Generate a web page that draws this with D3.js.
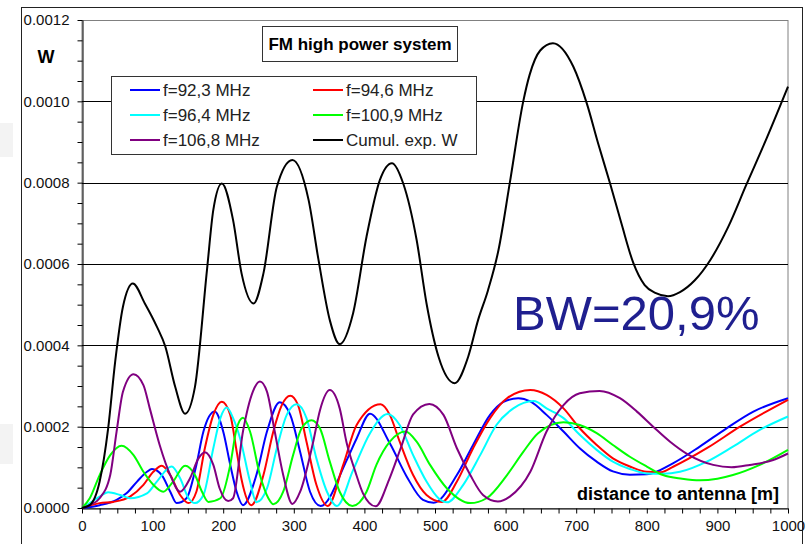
<!DOCTYPE html>
<html>
<head>
<meta charset="utf-8">
<script src="https://cdn.jsdelivr.net/npm/d3@7"></script>
<style>
  body { margin: 0; background: #fff; }
  text { font-family: "Liberation Sans", Arial, sans-serif; }
</style>
</head>
<body>
<svg id="chart" width="809" height="544"></svg>
<script>
// values in units of 1e-4 W as [distance m, value]
const UNIT = 1e-4;

const f923 = [[0,0],[25,0.07],[49,0.2],[63,0.36],[78,0.65],[92,0.89],[99,0.96],[113,0.81],[125,0.4],[134,0.12],
  [148,0.24],[162,1.06],[172,1.88],[188,2.37],[200,1.88],[210,1.06],[219,0.4],[228,0.07],[247,0.81],[262,1.88],
  [280,2.6],[295,2.29],[309,1.38],[323,0.4],[338,0.05],[375,1.18],[389,1.71],[408,2.32],[436,1.59],[460,0.77],
  [483,0.2],[498,0.13],[531,0.81],[554,1.55],[578,2.29],[597,2.61],[618,2.7],[635,2.62],[658,2.29],[682,1.88],
  [705,1.47],[729,1.14],[752,0.9],[776,0.82],[800,0.83],[837,1.1],[875,1.51],[913,1.96],[951,2.37],[1000,2.7]];

const f946 = [[0,0],[25,0.12],[44,0.15],[68,0.28],[87,0.57],[101,0.89],[113,1.04],[125,0.81],[139,0.32],[151,0.12],
  [162,0.4],[174,1.47],[186,2.29],[198,2.61],[210,2.29],[219,1.4],[226,0.7],[240,0.07],[257,0.81],[271,1.88],
  [283,2.53],[295,2.76],[306,2.53],[318,1.63],[332,0.57],[348,0.05],[370,1.06],[389,2.04],[423,2.55],[436,2.29],
  [450,1.63],[469,0.81],[488,0.32],[510,0.15],[531,0.65],[554,1.47],[578,2.21],[602,2.7],[635,2.9],[658,2.78],
  [682,2.45],[705,1.96],[729,1.55],[752,1.22],[776,1.02],[800,0.89],[820,0.88],[838,1.02],[885,1.47],[932,2.0],
  [1000,2.66]];

const f964 = [[0,0],[11,0.12],[25,0.28],[37,0.39],[54,0.32],[68,0.24],[92,0.36],[106,0.65],[127,1.02],[139,0.73],
  [151,0.24],[160,0.12],[172,0.32],[186,1.47],[196,2.21],[205,2.47],[214,2.21],[224,1.71],[238,0.65],[247,0.14],
  [262,0.48],[276,1.47],[290,2.29],[304,2.55],[318,2.21],[332,1.22],[347,0.4],[361,0.05],[384,0.93],[408,1.84],
  [433,2.31],[450,2.04],[469,1.3],[488,0.65],[505,0.24],[517,0.14],[540,0.57],[564,1.3],[587,2.04],[611,2.45],
  [640,2.63],[658,2.45],[682,2.21],[705,1.8],[729,1.43],[752,1.14],[776,0.96],[800,0.85],[823,0.84],[847,0.89],
  [885,1.14],[922,1.51],[960,1.92],[1000,2.25]];

const f1009 = [[0,0],[11,0.24],[25,0.81],[40,1.3],[56,1.53],[73,1.3],[87,0.89],[101,0.57],[115,0.4],[129,0.65],
  [146,1.04],[160,0.81],[170,0.4],[179,0.15],[196,0.24],[210,1.06],[219,1.95],[228,2.22],[238,1.88],[252,0.81],
  [264,0.24],[271,0.09],[285,0.4],[299,1.3],[311,1.96],[325,2.16],[337,1.96],[351,1.14],[365,0.4],[383,0.05],
  [403,0.4],[417,1.06],[436,1.63],[458,1.88],[474,1.63],[493,1.06],[517,0.48],[550,0.12],[573,0.24],[602,0.81],
  [625,1.38],[646,1.84],[682,2.11],[705,2.04],[729,1.84],[752,1.55],[776,1.26],[800,1.02],[823,0.81],[850,0.72],
  [875,0.68],[900,0.72],[922,0.81],[960,1.06],[1000,1.43]];

const f1068 = [[0,0],[11,0.07],[25,0.24],[40,0.81],[49,1.88],[58,2.86],[73,3.29],[87,3.02],[96,2.45],[110,1.55],
  [125,0.81],[139,0.4],[153,0.73],[165,1.22],[174,1.37],[186,1.06],[195,0.48],[207,0.17],[214,0.24],[228,1.88],
  [242,2.86],[252,3.11],[262,2.86],[273,1.88],[285,0.81],[298,0.1],[309,0.4],[327,1.59],[337,2.4],[351,2.9],
  [365,2.45],[375,1.59],[387,0.9],[398,0.36],[416,0.04],[435,0.7],[452,1.5],[469,2.3],[492,2.56],[512,2.29],
  [531,1.47],[550,0.81],[568,0.32],[589,0.16],[606,0.28],[635,0.89],[658,1.88],[682,2.53],[705,2.82],[733,2.88],
  [762,2.7],[786,2.37],[809,2.0],[833,1.63],[858,1.32],[894,1.06],[920,1.0],[946,1.06],[979,1.18],[1000,1.34]];

const cumul = [[0,0],[11,0.07],[25,0.65],[37,1.95],[47,3.6],[58,4.95],[72,5.52],[89,5.03],[106,4.46],[118,3.97],
  [132,2.98],[146,2.32],[160,2.98],[177,5.85],[186,7.33],[198,7.98],[214,7.08],[226,5.77],[243,5.03],[257,5.77],
  [276,7.9],[298,8.56],[321,7.57],[335,6.1],[351,4.62],[365,4.03],[384,4.79],[403,6.67],[422,8.07],[439,8.48],
  [455,7.98],[474,6.59],[488,5.03],[505,3.72],[528,3.07],[547,3.72],[561,4.62],[575,5.35],[590,6.35],[606,8.0],
  [625,10.0],[634,10.65],[649,11.25],[667,11.43],[696,10.85],[715,9.95],[731,8.97],[748,7.98],[764,7.0],[781,6.02],
  [797,5.48],[812,5.29],[830,5.21],[847,5.31],[868,5.6],[890,6.1],[915,6.9],[941,7.95],[970,9.1],[1000,10.36]];

const seriesNames = ['f=92,3 MHz', 'f=94,6 MHz', 'f=96,4 MHz', 'f=100,9 MHz', 'f=106,8 MHz', 'Cumul. exp. W'];
const seriesData = [f923, f946, f964, f1009, f1068, cumul];
const seriesColors = ['#0000ff', '#ff0000', '#00ffff', '#00ff00', '#800080', '#000000'];

const xTicks = d3.range(0, 1001, 25);
const yTicks = d3.range(0, 25).map(i => i * 0.00005);

const svg = d3.select('#chart');
const LEFT = 82, RIGHT = 788, TOP = 20, BOTTOM = 508;

const x = d3.scaleLinear().domain([0, 1000]).range([LEFT, RIGHT]);
const y = d3.scaleLinear().domain([0, 0.0012]).range([BOTTOM, TOP]);

// faint background marks at the left edge
svg.append('rect').attr('x', 0).attr('y', 123).attr('width', 13).attr('height', 34).attr('fill', '#f3f3f3');
svg.append('rect').attr('x', 0).attr('y', 424).attr('width', 13).attr('height', 40).attr('fill', '#f3f3f3');

// outer frame
svg.append('rect')
    .attr('x', 21.5).attr('y', 7.5)
    .attr('width', 781).attr('height', 600)
    .attr('fill', '#fff').attr('stroke', '#222');

// plot area
svg.append('rect')
    .attr('x', LEFT).attr('y', TOP + 0.5)
    .attr('width', RIGHT - LEFT).attr('height', BOTTOM - TOP)
    .attr('fill', '#fff').attr('stroke', '#808080');

// grid
svg.append('g')
    .selectAll('line')
    .data(d3.range(1, 6).map(i => i * 0.0002))
    .enter()
    .append('line')
    .attr('x1', LEFT).attr('x2', RIGHT)
    .attr('y1', d => Math.round(y(d)) + 0.5).attr('y2', d => Math.round(y(d)) + 0.5)
    .attr('stroke', '#000');

const yAxis = d3.axisLeft(y)
    .tickValues(yTicks)
    .tickSize(5)
    .tickSizeOuter(0)
    .tickFormat((d, i) => i % 4 === 0 ? d3.format('.4f')(d) : '');

const xAxis = d3.axisBottom(x)
    .tickValues(xTicks)
    .tickSize(5)
    .tickSizeOuter(0)
    .tickFormat((d, i) => i % 4 === 0 ? d : '');

const gy = svg.append('g')
    .attr('transform', 'translate(' + (LEFT + 0.5) + ',0)')
    .call(yAxis);
gy.selectAll('text').attr('x', -13).style('font-size', '15px').style('font-family', '"Liberation Sans", Arial, sans-serif').attr('fill', '#111');

const gx = svg.append('g')
    .attr('transform', 'translate(0,' + (BOTTOM + 0.5) + ')')
    .call(xAxis);
gx.selectAll('text').attr('y', 12).style('font-size', '15px').style('font-family', '"Liberation Sans", Arial, sans-serif').attr('fill', '#111');

svg.selectAll('.domain, .tick line').attr('stroke', '#000');

// curves
const line = d3.line()
    .x(d => x(d[0]))
    .y(d => y(d[1] * UNIT))
    .curve(d3.curveMonotoneX);

svg.append('g')
    .selectAll('path')
    .data(seriesData)
    .enter()
    .append('path')
    .attr('d', line)
    .attr('fill', 'none')
    .attr('stroke', (d, i) => seriesColors[i])
    .attr('stroke-width', 2);

// W label
svg.append('text')
    .attr('x', 46).attr('y', 63)
    .attr('text-anchor', 'middle')
    .style('font-size', '18px').style('font-weight', 'bold')
    .text('W');

// title box
svg.append('rect')
    .attr('x', 262.5).attr('y', 26.5)
    .attr('width', 195).attr('height', 35)
    .attr('fill', '#fff').attr('stroke', '#333');
svg.append('text')
    .attr('x', 360).attr('y', 50)
    .attr('text-anchor', 'middle')
    .style('font-size', '17px').style('font-weight', 'bold')
    .text('FM high power system');

// legend
const legend = svg.append('g');
legend.append('rect')
    .attr('x', 111.5).attr('y', 76.5)
    .attr('width', 365).attr('height', 78)
    .attr('fill', '#fff').attr('stroke', '#333');

const items = legend.selectAll('g.item')
    .data(seriesNames)
    .enter()
    .append('g')
    .attr('class', 'item')
    .attr('transform', (d, i) => 'translate(' + (i % 2 === 0 ? 130 : 313) + ',' + (90 + Math.floor(i / 2) * 25) + ')');

items.append('line')
    .attr('x1', 0).attr('x2', 30)
    .attr('stroke', (d, i) => seriesColors[i])
    .attr('stroke-width', 2);

items.append('text')
    .attr('x', 33).attr('y', 6)
    .style('font-size', '17px')
    .attr('fill', '#222')
    .text(d => d);

// annotations
svg.append('text')
    .attr('x', 513).attr('y', 330)
    .style('font-size', '49px')
    .attr('fill', '#1f1f8f')
    .text('BW=20,9%');

svg.append('text')
    .attr('x', 779).attr('y', 500)
    .attr('text-anchor', 'end')
    .style('font-size', '18px').style('font-weight', 'bold')
    .text('distance to antenna [m]');
</script>
</body>
</html>
